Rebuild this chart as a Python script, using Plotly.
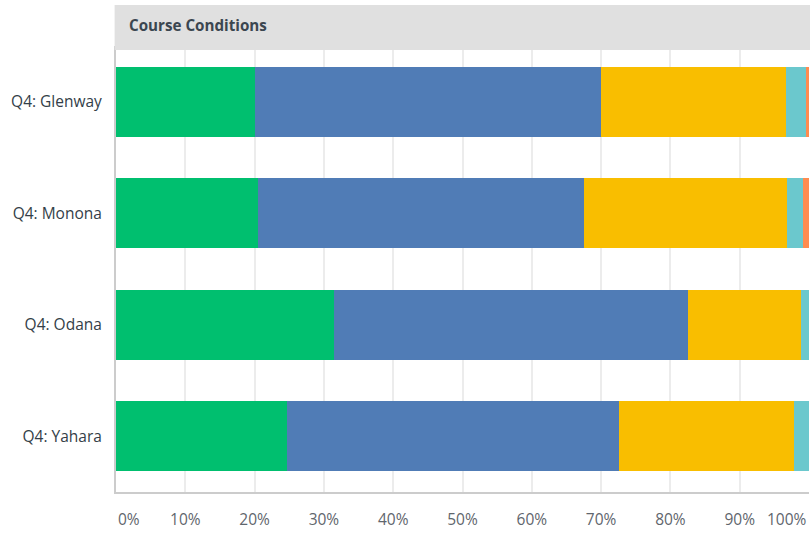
import plotly.graph_objects as go

categories = ["Q4: Glenway", "Q4: Monona", "Q4: Odana", "Q4: Yahara"]
series_names = ["Excellent", "Good", "Fair", "Poor", "Very poor"]
s1 = [20.0, 20.5, 31.4, 24.7]
s2 = [50.0, 47.0, 51.2, 47.9]
s3 = [26.7, 29.3, 16.2, 25.3]
s4 = [2.8, 2.4, 1.2, 2.1]
s5 = [0.5, 0.8, 0.0, 0.0]
colors = ["#00bf6f", "#507cb6", "#f9be00", "#6bc8cd", "#ff8b4f"]
tick_vals = [0, 10, 20, 30, 40, 50, 60, 70, 80, 90, 100]
tick_text = ["", "10%", "20%", "30%", "40%", "50%", "60%", "70%", "80%", "90%", ""]
title_text = "Course Conditions"

fig = go.Figure()
for name, vals, col in zip(series_names, [s1, s2, s3, s4, s5], colors):
    fig.add_trace(go.Bar(
        y=categories, x=vals, name=name, orientation="h",
        marker=dict(color=col, line=dict(width=0)),
        hoverinfo="x+y",
    ))

W, H = 810, 533
ml, mr, mt, mb = 116, 1, 46, 41
PH = H - mt - mb
FONT = "Open Sans, Roboto, sans-serif"

fig.update_layout(
    width=W, height=H,
    barmode="stack",
    bargap=0.37,
    showlegend=False,
    paper_bgcolor="white",
    plot_bgcolor="white",
    margin=dict(l=ml, r=mr, t=mt, b=mb, autoexpand=False),
    font=dict(family=FONT, size=15, color="#333e48"),
    xaxis=dict(
        range=[0, 100], tickvals=tick_vals, ticktext=tick_text,
        showgrid=True, gridcolor="#ececec", gridwidth=2,
        zeroline=False, showline=True, linecolor="#cccccc", linewidth=2,
        ticks="", ticklabelstandoff=12,
        tickfont=dict(family=FONT, size=15.5, color="#5f666d"),
        fixedrange=True,
    ),
    yaxis=dict(
        categoryorder="array", categoryarray=categories, autorange="reversed",
        showgrid=False, zeroline=False, showline=True, linecolor="#cccccc", linewidth=2,
        ticks="", ticklabelstandoff=9,
        tickfont=dict(family=FONT, size=15.5, color="#333e48"),
        fixedrange=True,
    ),
    shapes=[
        dict(type="rect", xref="paper", yref="paper",
             x0=-0.002, x1=1.01, y0=1.0 - 4.0 / PH, y1=1.0 + 41.0 / PH,
             fillcolor="#e0e0e0", line=dict(width=0), layer="above"),
    ],
    annotations=[
        dict(text="<b>" + title_text + "</b>", xref="paper", yref="paper",
             x=(127 - ml) / (W - ml - mr), y=1.0 + (46 - 25) / PH,
             xanchor="left", yanchor="middle", showarrow=False,
             font=dict(family=FONT, size=15.2, color="#3b4650")),
        dict(text="0%", xref="x", yref="paper", x=0, y=-(519 - 492) / PH,
             xanchor="left", yanchor="middle", showarrow=False,
             font=dict(family=FONT, size=15.5, color="#5f666d")),
        dict(text="100%", xref="x", yref="paper", x=100, y=-(519 - 492) / PH,
             xanchor="right", yanchor="middle", showarrow=False,
             font=dict(family=FONT, size=15.5, color="#5f666d")),
    ],
)

fig.write_html("out.html", config={"displayModeBar": False},
               post_script="document.body.style.margin='0';document.body.style.overflow='hidden';")
